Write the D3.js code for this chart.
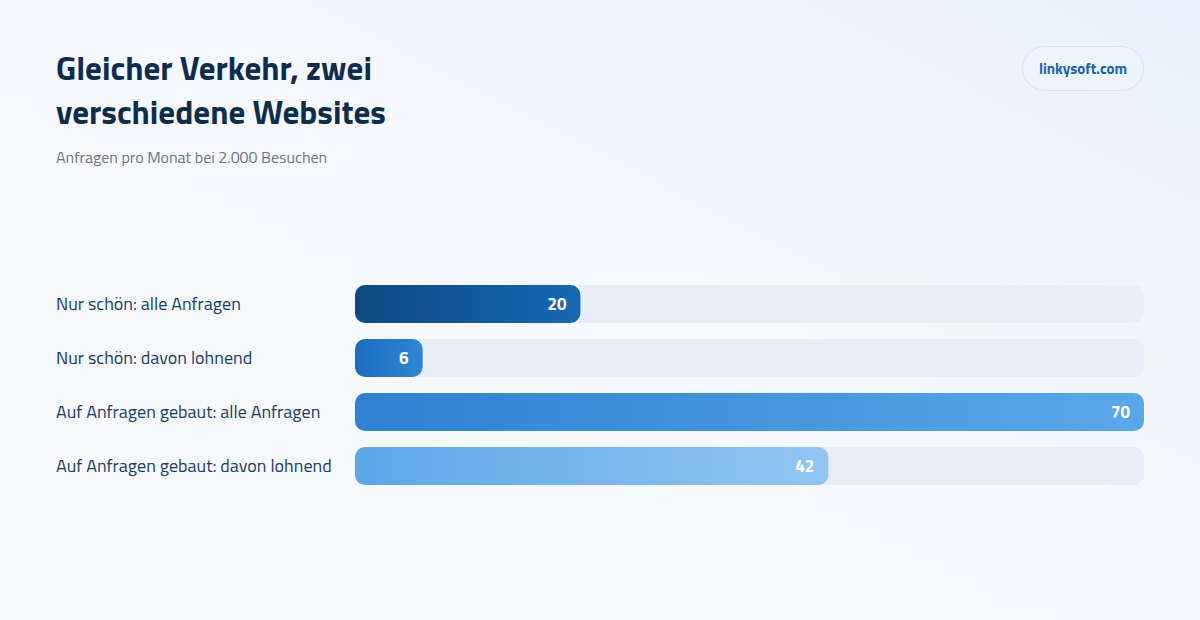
<!DOCTYPE html>
<html lang="de">
<head>
<meta charset="utf-8">
<script src="https://cdn.jsdelivr.net/npm/d3@7"></script>
<style>
  html, body { margin: 0; padding: 0; }
  body { width: 1200px; height: 620px; overflow: hidden; font-family: "Titillium Web", Roboto, "Noto Sans", sans-serif; }
</style>
</head>
<body>
<div id="chart"></div>
<script>
// chart data
const categories = [
  "Nur schön: alle Anfragen",
  "Nur schön: davon lohnend",
  "Auf Anfragen gebaut: alle Anfragen",
  "Auf Anfragen gebaut: davon lohnend"
];
const values = [20, 6, 70, 42];
// gradient stops per bar (left -> right)
const barColors = [
  ["#0c4a83", "#1668b4"],
  ["#1a6cbf", "#2f86d6"],
  ["#2f82d2", "#5aa8e9"],
  ["#5ca7e9", "#92c6f3"]
];
const titleLines = ["Gleicher Verkehr, zwei", "verschiedene Websites"];
const subtitle = "Anfragen pro Monat bei 2.000 Besuchen";
const badgeText = "linkysoft.com";

const width = 1200, height = 620;
const svg = d3.select("#chart").append("svg")
  .attr("width", width)
  .attr("height", height);

const defs = svg.append("defs");

// background gradient
const bg = defs.append("linearGradient").attr("id", "bg")
  .attr("x1", "0%").attr("y1", "100%").attr("x2", "100%").attr("y2", "0%");
bg.append("stop").attr("offset", "0%").attr("stop-color", "#f7f9fc");
bg.append("stop").attr("offset", "55%").attr("stop-color", "#f5f8fc");
bg.append("stop").attr("offset", "100%").attr("stop-color", "#e8f1fb");
svg.append("rect").attr("width", width).attr("height", height).attr("fill", "url(#bg)");

// title + subtitle
svg.append("g").selectAll("text")
  .data(titleLines)
  .join("text")
  .attr("x", 56)
  .attr("y", (d, i) => 80 + i * 44)
  .attr("font-size", 33)
  .attr("font-weight", 700)
  .attr("fill", "#0e2d4e")
  .text(d => d);

svg.append("text")
  .attr("x", 56).attr("y", 163)
  .attr("font-size", 16)
  .attr("fill", "#6b7684")
  .text(subtitle);

// badge
const badge = svg.append("g");
badge.append("rect")
  .attr("x", 1022.5).attr("y", 46.5)
  .attr("width", 121).attr("height", 44)
  .attr("rx", 22)
  .attr("fill", "#edf4fd")
  .attr("stroke", "#d3e4f6");
badge.append("text")
  .attr("x", 1083).attr("y", 74)
  .attr("text-anchor", "middle")
  .attr("font-size", 15)
  .attr("font-weight", 700)
  .attr("fill", "#1766b4")
  .text(badgeText);

// scales
const x = d3.scaleLinear().domain([0, 70]).range([355, 1144]);
const y = d3.scaleBand().domain(categories).range([285, 485]).paddingInner(16 / 54).paddingOuter(0);

barColors.forEach((c, i) => {
  const g = defs.append("linearGradient").attr("id", "bar" + i)
    .attr("x1", "0%").attr("x2", "100%").attr("y1", "0%").attr("y2", "0%");
  g.append("stop").attr("offset", "0%").attr("stop-color", c[0]);
  g.append("stop").attr("offset", "100%").attr("stop-color", c[1]);
});

const rows = svg.append("g").selectAll("g")
  .data(categories)
  .join("g")
  .attr("transform", d => `translate(0,${y(d)})`);

rows.append("rect")
  .attr("x", x(0))
  .attr("width", x.range()[1] - x(0))
  .attr("height", y.bandwidth())
  .attr("rx", 10)
  .attr("fill", "#e7eef8");

rows.append("rect")
  .attr("x", x(0))
  .attr("width", (d, i) => x(values[i]) - x(0))
  .attr("height", y.bandwidth())
  .attr("rx", 10)
  .attr("fill", (d, i) => `url(#bar${i})`);

rows.append("text")
  .attr("x", 56)
  .attr("y", y.bandwidth() / 2)
  .attr("dy", "0.35em")
  .attr("font-size", 18)
  .attr("fill", "#173f6b")
  .text(d => d);

rows.append("text")
  .attr("x", (d, i) => x(values[i]) - 14)
  .attr("y", y.bandwidth() / 2)
  .attr("dy", "0.35em")
  .attr("text-anchor", "end")
  .attr("font-size", 17)
  .attr("font-weight", 700)
  .attr("fill", "#ffffff")
  .text((d, i) => values[i]);
</script>
</body>
</html>
